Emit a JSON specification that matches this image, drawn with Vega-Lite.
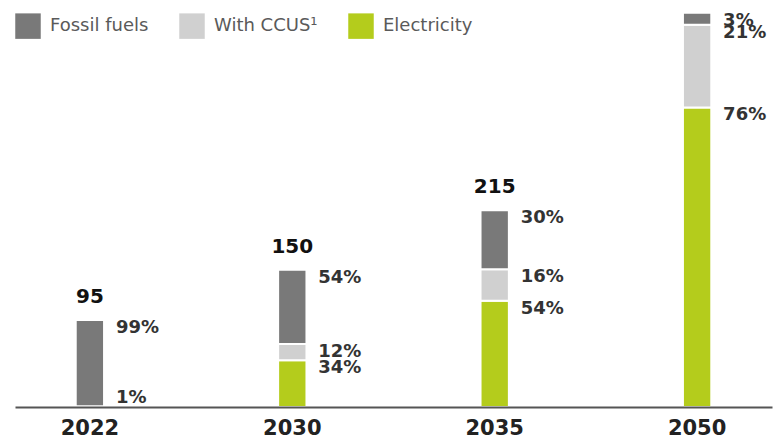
{
  "$schema": "https://vega.github.io/schema/vega-lite/v6.json",
  "width": 757,
  "height": 407,
  "autosize": "none",
  "padding": {"left": 15, "top": 0, "right": 7, "bottom": 34},
  "background": "white",
  "config": {"view": {"stroke": null}, "font": "DejaVu Sans"},
  "data": {
    "values": [
      {"year": "2022", "source": "Electricity", "order": 1, "value": 0.95, "label": "1%"},
      {"year": "2022", "source": "Fossil fuels", "order": 3, "value": 94.05, "label": "99%"},
      {"year": "2030", "source": "Electricity", "order": 1, "value": 51, "label": "34%"},
      {"year": "2030", "source": "With CCUS¹", "order": 2, "value": 18, "label": "12%"},
      {"year": "2030", "source": "Fossil fuels", "order": 3, "value": 81, "label": "54%"},
      {"year": "2035", "source": "Electricity", "order": 1, "value": 116.1, "label": "54%"},
      {"year": "2035", "source": "With CCUS¹", "order": 2, "value": 34.4, "label": "16%"},
      {"year": "2035", "source": "Fossil fuels", "order": 3, "value": 64.5, "label": "30%"},
      {"year": "2050", "source": "Electricity", "order": 1, "value": 327.5, "label": "76%"},
      {"year": "2050", "source": "With CCUS¹", "order": 2, "value": 90.5, "label": "21%"},
      {"year": "2050", "source": "Fossil fuels", "order": 3, "value": 13, "label": "3%"}
    ]
  },
  "transform": [
    {"stack": "value", "groupby": ["year"], "sort": [{"field": "order", "order": "ascending"}], "as": ["v0", "v1"]}
  ],
  "encoding": {
    "x": {
      "field": "year",
      "type": "ordinal",
      "scale": {"paddingInner": 0.86, "paddingOuter": 0.3},
      "axis": {
        "title": null,
        "labelAngle": 0,
        "ticks": false,
        "domainColor": "#555555",
        "domainWidth": 2,
        "labelFontSize": 21,
        "labelFontWeight": "bold",
        "labelColor": "#222222",
        "labelPadding": 10,
        "labelFont": "DejaVu Sans",
        "zindex": 1
      }
    }
  },
  "layer": [
    {
      "mark": {"type": "bar", "stroke": "white", "strokeWidth": 2},
      "encoding": {
        "y": {"field": "v1", "type": "quantitative", "scale": {"domain": [0, 445], "nice": false}, "axis": null},
        "y2": {"field": "v0"},
        "color": {
          "field": "source",
          "type": "nominal",
          "scale": {
            "domain": ["Fossil fuels", "With CCUS¹", "Electricity"],
            "range": ["#797979", "#d0d0d0", "#b4cc1c"]
          },
          "legend": {
            "orient": "none",
            "legendX": 0,
            "legendY": 13,
            "direction": "horizontal",
            "title": null,
            "symbolType": "square",
            "symbolSize": 650,
            "symbolStrokeWidth": 0,
            "labelFontSize": 18,
            "labelColor": "#5a5a5a",
            "labelFont": "DejaVu Sans",
            "columnPadding": 30,
            "labelOffset": 9
          }
        }
      }
    },
    {
      "transform": [{"calculate": "max(datum.v1, 19)", "as": "ly"}],
      "mark": {"type": "text", "align": "left", "baseline": "top", "dx": 26, "dy": -1, "fontSize": 18, "fontWeight": "bold", "color": "#333333", "font": "DejaVu Sans"},
      "encoding": {
        "y": {"field": "ly", "type": "quantitative"},
        "text": {"field": "label"}
      }
    },
    {
      "transform": [
        {"filter": "datum.year != '2050'"},
        {"aggregate": [{"op": "sum", "field": "value", "as": "total"}], "groupby": ["year"]}
      ],
      "mark": {"type": "text", "align": "center", "baseline": "alphabetic", "dy": -17, "fontSize": 20, "fontWeight": "bold", "color": "#111111", "font": "DejaVu Sans"},
      "encoding": {
        "y": {"field": "total", "type": "quantitative"},
        "text": {"field": "total", "format": ".0f"}
      }
    }
  ]
}
